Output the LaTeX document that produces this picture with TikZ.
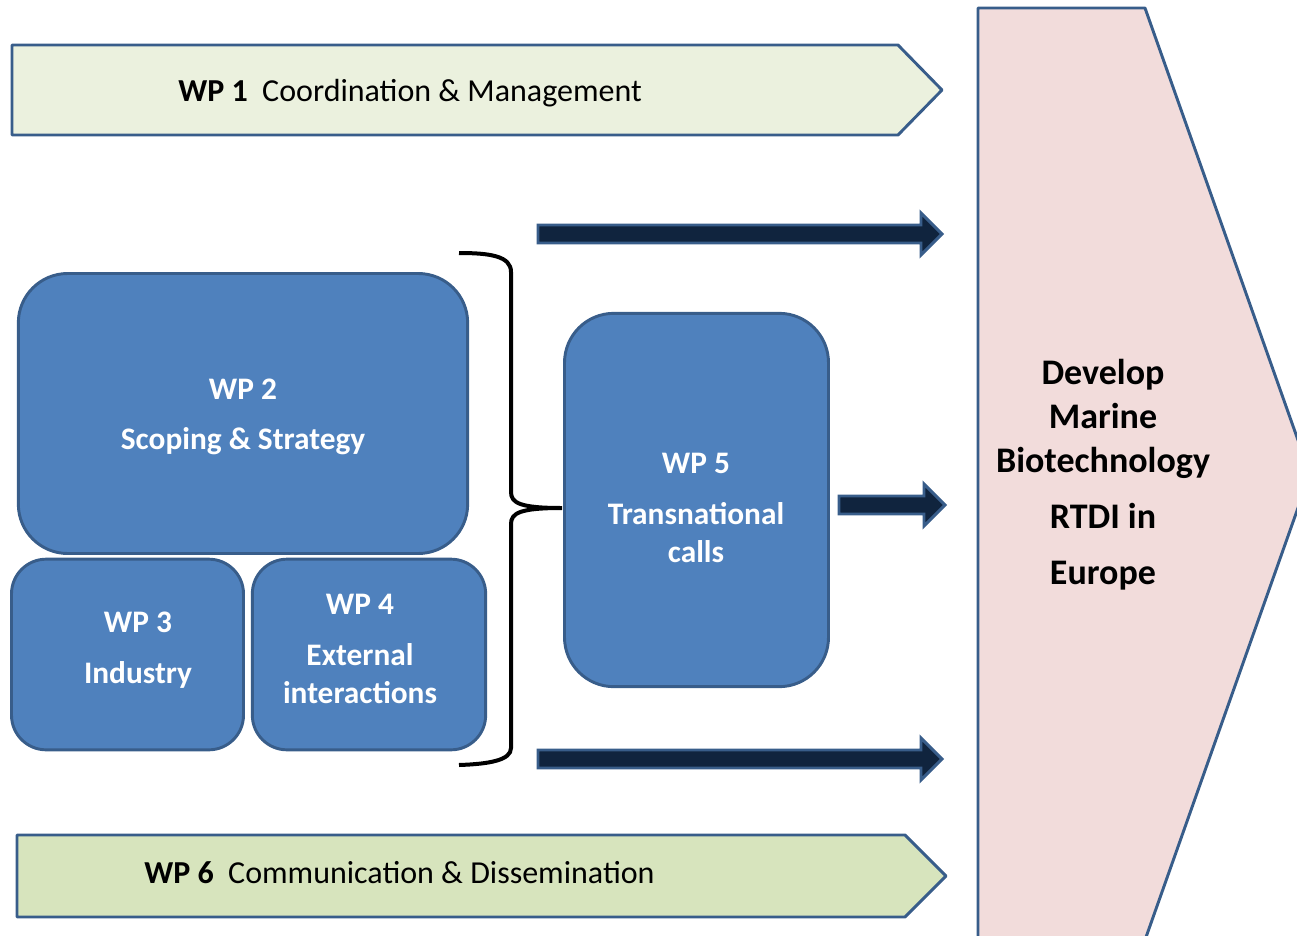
\documentclass[tikz,border=0pt]{standalone}
\usepackage{fontspec}
\setmainfont{Carlito}
\usetikzlibrary{positioning}
\definecolor{wpblue}{HTML}{4F81BD}
\definecolor{wpedge}{HTML}{385D8A}
\definecolor{wplight}{HTML}{EBF1DE}
\definecolor{wpgreen}{HTML}{D7E4BD}
\definecolor{goalpink}{HTML}{F2DCDB}
\definecolor{navy}{HTML}{10243E}

\begin{document}
\begin{tikzpicture}[x=0.75pt,y=-0.75pt,
	wpbox/.style={draw=wpedge, fill=wpblue, line width=2.2pt, inner sep=0pt},
	wptext/.style={text=white, align=center, inner sep=0pt, font=\fontsize{23.5}{28.5}\selectfont\bfseries},
	bar/.style={draw=wpedge, line width=2.2pt, line join=round},
	bartext/.style={anchor=west, inner sep=0pt, font=\fontsize{24}{29}\selectfont},
	bigarrow/.style={draw=wpedge, fill=navy, line width=2.2pt}]
		\useasboundingbox (0,0) rectangle (1297,936);
		\clip (0,0) rectangle (1297,936);
		% goal
		\draw[bar, fill=goalpink] (978,8) -- (1145,8) -- (1310,474) -- (1145,940) -- (978,940) -- cycle;
		\node (goal) at (1103,475) [align=center, inner sep=0pt, font=\fontsize{27}{33}\selectfont\bfseries] {Develop\\Marine\\Biotechnology\\[9pt]RTDI in\\[9pt]Europe};
		% top and bottom bars
		\draw[bar, fill=wplight] (12,45) -- (898,45) -- (942,90) -- (898,135) -- (12,135) -- cycle;
		\node (wp1) [bartext] at (178,93) {\textbf{WP 1}\ \ Coordination \& Management};
		\draw[bar, fill=wpgreen] (17,835) -- (905,835) -- (946,876) -- (905,917) -- (17,917) -- cycle;
		\node (wp6) [bartext] at (144,873) {\textbf{WP 6}\ \ Communication \& Dissemination};
		% work packages
		\node (wp2) [wpbox, minimum width=337pt, minimum height=210pt, rounded corners=37pt] at (243,413.5) {};
		\node (wp3) [wpbox, minimum width=174pt, minimum height=143pt, rounded corners=26pt] at (127.5,654.5) {};
		\node (wp4) [wpbox, minimum width=175pt, minimum height=143pt, rounded corners=26pt] at (369,654.5) {};
		\node (wp5) [wpbox, minimum width=198pt, minimum height=280pt, rounded corners=37pt] at (696.5,500) {};
		\node (t2) [wptext] at (243,417) {WP 2\\[9.5pt]Scoping \& Strategy};
		\node (t3) [wptext] at (138,650) {WP 3\\[9.5pt]Industry};
		\node (t4) [wptext] at (360,649) {WP 4\\[9.5pt]External\\interactions};
		\node (t5) [wptext] at (696,508) {WP 5\\[9.5pt]Transnational\\calls};
		% brace
		\coordinate (cusp) at (562,508);
		\draw[line width=3pt] (459,253) .. controls (490,253) and (511,256) .. (511,272) -- (511,492)
			.. controls (511,503) and (520,508) .. (cusp)
			.. controls (520,508) and (511,513) .. (511,524) -- (511,748)
			.. controls (511,760) and (490,764) .. (459,765);
		% arrows to the goal
		\foreach \y in {234,759}
			\draw[bigarrow] (538,\y-9) -- (921,\y-9) -- (921,\y-21) -- (942,\y) -- (921,\y+21) -- (921,\y+9) -- (538,\y+9) -- cycle;
		\draw[bigarrow] (839,496) -- (924,496) -- (924,484) -- (945,505) -- (924,526) -- (924,514) -- (839,514) -- cycle;
\end{tikzpicture}
\end{document}
